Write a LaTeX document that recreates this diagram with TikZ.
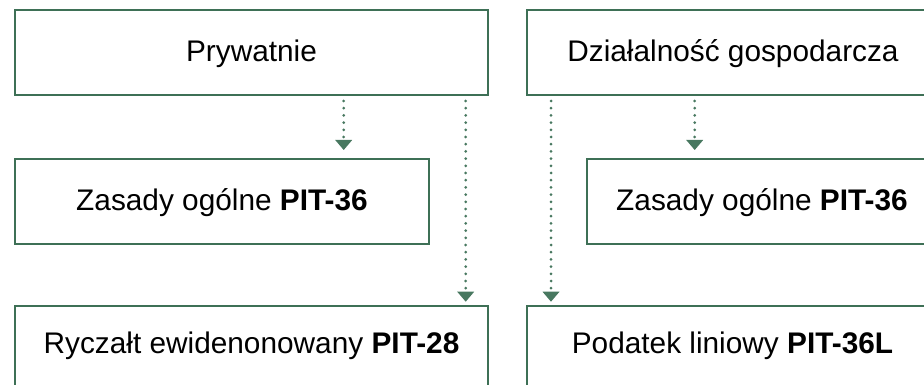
\documentclass[tikz,border=0pt]{standalone}
\usepackage{fontspec}
\setmainfont{Liberation Sans}
\usetikzlibrary{arrows.meta}
\definecolor{boxgreen}{RGB}{62,112,86}
\definecolor{arrgreen}{RGB}{72,120,96}
\begin{document}
\begin{tikzpicture}[x=1pt,y=-1pt,
  box/.style={draw=boxgreen, line width=2pt, rectangle, inner sep=0pt, fill=white},
  lbl/.style={anchor=base, inner sep=0pt, font=\fontsize{29.8}{36}\selectfont},
  conn/.style={draw=arrgreen, line width=3pt, line cap=round, dash pattern=on 0pt off 7.2pt,
    -{Triangle[width=17pt,length=10pt,line width=0pt]}}
]
\useasboundingbox (0,0) rectangle (924,385);
\clip (0,0) rectangle (924,385);
\fill[white] (0,0) rectangle (924,385);

% boxes
\node[box, minimum width=473pt, minimum height=85pt] (pry) at (251.5,52.5) {};
\node[box, minimum width=412pt, minimum height=85pt] (dzi) at (733,52.5) {};
\node[box, minimum width=414pt, minimum height=85pt] (zl) at (222,201.5) {};
\node[box, minimum width=350pt, minimum height=85pt] (zr) at (762,201.5) {};
\node[box, minimum width=473pt, minimum height=94pt] (ry) at (251.5,353) {};
\node[box, minimum width=412pt, minimum height=94pt] (pl) at (733,353) {};

% labels
\node[lbl] (tpry) at (251.5,62) {Prywatnie};
\node[lbl] (tdzi) at (733,62) {Działalność gospodarcza};
\node[lbl] (tzl) at (222,210) {Zasady ogólne \textbf{PIT-36}};
\node[lbl] (tzr) at (762,210) {Zasady ogólne \textbf{PIT-36}};
\node[lbl] (try) at (251.5,353.5) {Ryczałt ewidenonowany \textbf{PIT-28}};
\node[lbl] (tpl) at (732.5,353.5) {Podatek liniowy \textbf{PIT-36L}};

% connectors
\draw[conn, shorten <=5pt, shorten >=8pt] (pry.south -| 343.7,0) -- (zl.north -| 343.7,0);
\draw[conn, shorten <=5pt, shorten >=3.3pt] (pry.south -| 465.7,0) -- (ry.north -| 465.7,0);
\draw[conn, shorten <=5pt, shorten >=3.3pt] (dzi.south -| 551,0) -- (pl.north -| 551,0);
\draw[conn, shorten <=5pt, shorten >=8pt] (dzi.south -| 694.7,0) -- (zr.north -| 694.7,0);
\end{tikzpicture}
\end{document}
